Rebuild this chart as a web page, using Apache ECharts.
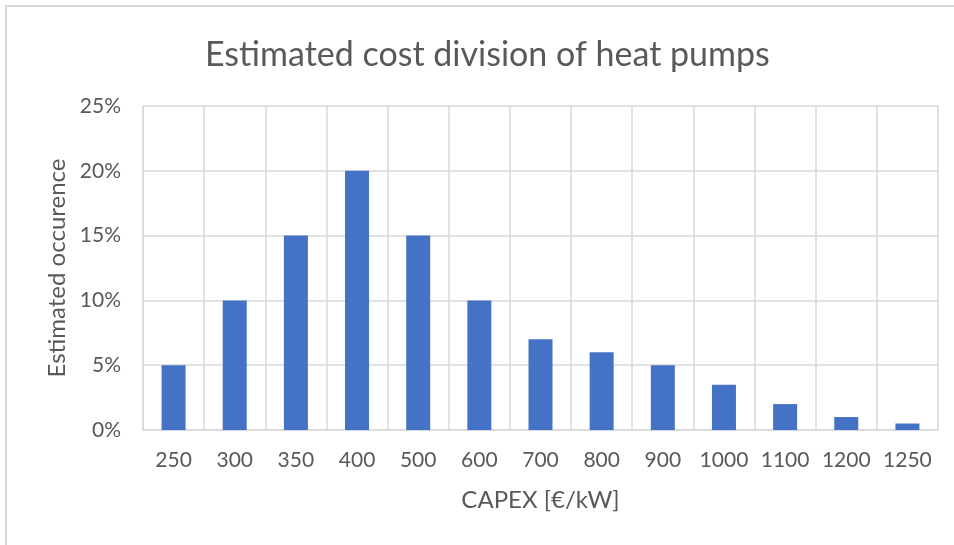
<!DOCTYPE html>
<html>
<head>
<meta charset="utf-8">
<script src="https://cdn.jsdelivr.net/npm/echarts@6/dist/echarts.min.js"></script>
<style>
html,body{margin:0;padding:0;background:#fff;}
#chart{width:954px;height:545px;}
</style>
</head>
<body>
<div id="chart"></div>
<script>
const categories = ['250','300','350','400','500','600','700','800','900','1000','1100','1200','1250'];
const occurrence = [5, 10, 15, 20, 15, 10, 7, 6, 5, 3.5, 2, 1, 0.5];
const yTicks = [0, 5, 10, 15, 20, 25];

const FONT = 'Lato, "Open Sans", sans-serif';
const chart = echarts.init(document.getElementById('chart'));
chart.setOption({
  backgroundColor: '#ffffff',
  animation: false,
  title: {
    text: 'Estimated cost division of heat pumps',
    left: 200,
    top: 33,
    textStyle: { fontFamily: FONT, fontSize: 34, fontWeight: 'normal', color: '#595959' }
  },
  graphic: [{
    type: 'rect',
    shape: { x: 6, y: 6, width: 1000, height: 600 },
    style: { fill: 'none', stroke: '#d9d9d9', lineWidth: 2 },
    silent: true
  }],
  grid: { left: 143, right: 16, top: 106, bottom: 115 },
  xAxis: {
    type: 'category',
    data: categories,
    name: 'CAPEX [€/kW]',
    nameLocation: 'middle',
    nameGap: 58,
    nameTextStyle: { fontFamily: FONT, fontSize: 24, color: '#595959' },
    axisLine: { lineStyle: { color: '#d9d9d9', width: 1.5 } },
    axisTick: { show: false },
    axisLabel: { interval: 0, fontFamily: FONT, fontSize: 21, color: '#595959', margin: 20 },
    splitLine: { show: true, interval: 0, lineStyle: { color: '#d9d9d9', width: 1.5 } }
  },
  yAxis: {
    type: 'value',
    min: yTicks[0],
    max: yTicks[yTicks.length - 1],
    interval: 5,
    name: 'Estimated occurence',
    nameLocation: 'middle',
    nameGap: 73,
    nameTextStyle: { fontFamily: FONT, fontSize: 24, color: '#595959' },
    axisLine: { show: true, lineStyle: { color: '#d9d9d9', width: 1.5 } },
    axisTick: { show: false },
    axisLabel: { fontFamily: FONT, fontSize: 21, color: '#595959', margin: 22, formatter: '{value}%' },
    splitLine: { show: true, lineStyle: { color: '#d9d9d9', width: 1.5 } }
  },
  series: [{
    type: 'bar',
    data: occurrence,
    barWidth: 24,
    itemStyle: { color: '#4472C4' }
  }]
});
</script>
</body>
</html>
